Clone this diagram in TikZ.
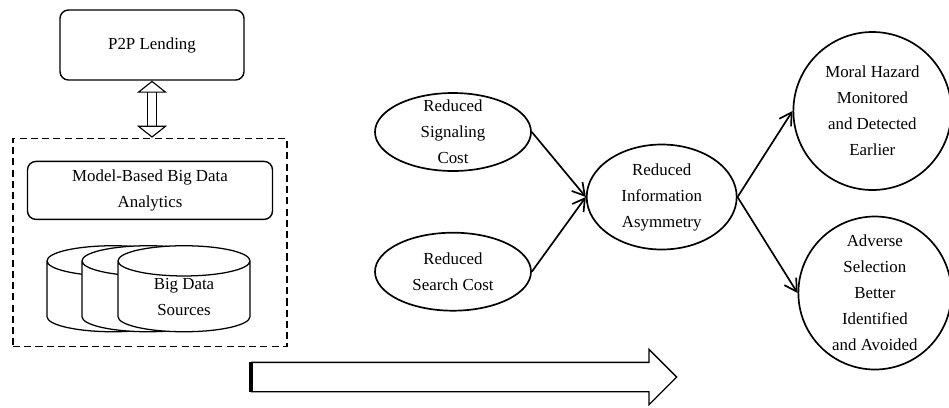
\documentclass[tikz,border=0pt]{standalone}
\usepackage{fontspec}
\setmainfont{Liberation Serif}
\usepackage{tikz}
\usetikzlibrary{positioning}
\usetikzlibrary{shapes.geometric}
\usetikzlibrary{shapes.arrows}
\usetikzlibrary{arrows.meta}

\begin{document}
\begin{tikzpicture}[
    font=\fontsize{12}{18.5}\selectfont,
    box/.style={draw, rounded corners=6pt, line width=1pt, align=center},
    oval/.style={ellipse, draw, line width=1.2pt, inner sep=0pt, label={[align=center]center:#1}},
    cyl/.style={cylinder, shape border rotate=90, draw, fill=white, line width=0.9pt, aspect=0.5,
      minimum height=2.15cm, minimum width=3.3cm, align=center, inner sep=0pt},
    edge/.style={-{Straight Barb[length=3mm,width=3.5mm]}, line width=1.2pt}
  ]
  \useasboundingbox (0,0) rectangle (23.725,-10.175);

  % left column
  \node[box, minimum width=4.6cm, minimum height=1.75cm] (P2P) at (3.8,-1.125) {P2P Lending};
  \node[draw, dashed, dash pattern=on 5pt off 3pt, line width=1pt, minimum width=6.85cm, minimum height=5.2cm,
    below=1.425cm of P2P, xshift=-0.05cm] (DB) {};
  \node[box, minimum width=6.125cm, minimum height=1.45cm, below=0.575cm of DB.north] (MA) {Model-Based Big Data\\Analytics};
  \node[cyl, below=0.625cm of MA, xshift=-0.925cm] (BD1) {\phantom{Big Data}\\\phantom{Sources}};
  \node[cyl, below=0.625cm of MA, xshift=-0.05cm] (BD2) {\phantom{Big Data}\\\phantom{Sources}};
  \node[cyl, below=0.625cm of MA, xshift=0.85cm] (BD3) {Big Data\\Sources};

  % right part
  \node[oval={Reduced\\Signaling\\Cost}, minimum width=3.9cm, minimum height=1.95cm] (RS) at (11.325,-3.3) {};
  \node[oval={Reduced\\Search Cost}, minimum width=3.9cm, minimum height=1.95cm, below=1.5cm of RS] (RC) {};
  \node[oval={Reduced\\Information\\Asymmetry}, minimum width=3.75cm, minimum height=2.625cm,
    right=1.35cm of RS, yshift=-1.625cm] (RI) {};
  \node[oval={Moral Hazard\\Monitored\\and Detected\\Earlier}, circle, minimum size=3.95cm,
    right=1.375cm of RI, yshift=2.15cm] (MH) {};
  \node[oval={Adverse\\Selection\\Better\\Identified\\and Avoided}, circle, minimum size=3.825cm,
    right=1.5cm of RI, yshift=-2.4cm] (AS) {};

  \node[single arrow, draw, line width=0.9pt, minimum width=1.35cm, minimum height=10.625cm,
    single arrow head extend=0.325cm, inner xsep=0pt, inner ysep=0.35cm, anchor=tail] (FW) at (6.275,-9.425) {};
  \draw[line width=2.5pt] (FW.before tail) -- (FW.after tail);

  % edges
  \draw[double, double distance=0.2cm, line width=0.8pt, {Triangle[open,length=0.3cm,width=0.75cm]}-{Triangle[open,length=0.3cm,width=0.75cm]}]
    (P2P.south) -- (P2P.south |- DB.north);
  \draw[edge] (RS.east) -- (RI.west);
  \draw[edge] (RC.east) -- (RI.west);
  \draw[edge] (RI.east) -- (MH.west);
  \draw[edge] (RI.east) -- (AS.west);
\end{tikzpicture}
\end{document}
